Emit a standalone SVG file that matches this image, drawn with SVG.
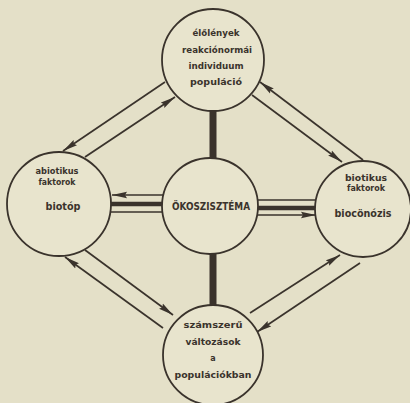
<svg xmlns="http://www.w3.org/2000/svg" width="410" height="403" viewBox="0 0 410 403">
<defs>
<marker id="ah" markerWidth="16" markerHeight="8" refX="15" refY="4" orient="auto" markerUnits="userSpaceOnUse">
<path d="M0,0.8 L15,4 L0,7.2 L2,4 Z" fill="#3a332c"/>
</marker>
<style>
.c{fill:#e8e4cd;stroke:#3a332c;stroke-width:1.8}
.t{font-family:"DejaVu Sans",sans-serif;font-weight:bold;fill:#3a332c;text-anchor:middle;font-size:8px}
.b{font-size:10px}
.a{stroke:#3a332c;stroke-width:1.7;fill:none}
.k{stroke:#3a332c;fill:none}
</style>
</defs>
<rect width="410" height="403" fill="#e4e0c8"/>
<g id="connectors">
<line class="k" x1="213" y1="108" x2="213" y2="160" stroke-width="7"/>
<line class="k" x1="213" y1="252" x2="213" y2="308" stroke-width="7"/>
<line class="a" x1="165" y1="195" x2="112" y2="195" marker-end="url(#ah)"/>
<line class="k" x1="110" y1="204" x2="164" y2="204" stroke-width="4.5"/>
<line class="a" x1="110" y1="212" x2="164" y2="212"/>
<line class="a" x1="256" y1="200" x2="316" y2="200"/>
<line class="k" x1="256" y1="208" x2="316" y2="208" stroke-width="4.5"/>
<line class="a" x1="256" y1="215" x2="316" y2="215" marker-end="url(#ah)"/>
<line class="a" x1="165" y1="82" x2="63" y2="151" marker-end="url(#ah)"/>
<line class="a" x1="85" y1="157" x2="175" y2="97" marker-end="url(#ah)"/>
<line class="a" x1="363" y1="160" x2="260" y2="82" marker-end="url(#ah)"/>
<line class="a" x1="252" y1="95" x2="342" y2="162" marker-end="url(#ah)"/>
<line class="a" x1="85" y1="250" x2="173" y2="315" marker-end="url(#ah)"/>
<line class="a" x1="163" y1="328" x2="65" y2="257" marker-end="url(#ah)"/>
<line class="a" x1="250" y1="313" x2="340" y2="255" marker-end="url(#ah)"/>
<line class="a" x1="360" y1="263" x2="257" y2="332" marker-end="url(#ah)"/>
</g>
<g id="top">
<circle class="c" cx="213" cy="60" r="51"/>
<text class="t" x="216" y="36" textLength="47" lengthAdjust="spacingAndGlyphs">élőlények</text>
<text class="t" x="217" y="53" textLength="70" lengthAdjust="spacingAndGlyphs">reakciónormái</text>
<text class="t" x="216" y="69" textLength="55" lengthAdjust="spacingAndGlyphs">individuum</text>
<text class="t" x="216" y="85" textLength="52" lengthAdjust="spacingAndGlyphs">populáció</text>
</g>
<g id="left">
<circle class="c" cx="59" cy="204" r="52"/>
<text class="t" x="57" y="174" textLength="43" lengthAdjust="spacingAndGlyphs">abiotikus</text>
<text class="t" x="57" y="185" textLength="37" lengthAdjust="spacingAndGlyphs">faktorok</text>
<text class="t b" x="63" y="210" textLength="35" lengthAdjust="spacingAndGlyphs">biotóp</text>
</g>
<g id="center">
<circle class="c" cx="210" cy="206" r="48"/>
<text class="t b" x="211" y="210" textLength="78" lengthAdjust="spacingAndGlyphs">ÖKOSZISZTÉMA</text>
</g>
<g id="right">
<circle class="c" cx="363" cy="209" r="48"/>
<text class="t" x="366" y="181" textLength="42" lengthAdjust="spacingAndGlyphs">biotikus</text>
<text class="t" x="366" y="191" textLength="38" lengthAdjust="spacingAndGlyphs">faktorok</text>
<text class="t b" x="363" y="217" textLength="57" lengthAdjust="spacingAndGlyphs">biocönózis</text>
</g>
<g id="bottom">
<circle class="c" cx="213" cy="355" r="50"/>
<text class="t" x="213" y="328" textLength="59" lengthAdjust="spacingAndGlyphs">számszerű</text>
<text class="t" x="213" y="345" textLength="55" lengthAdjust="spacingAndGlyphs">változások</text>
<text class="t" x="213" y="361">a</text>
<text class="t" x="213" y="378" textLength="77" lengthAdjust="spacingAndGlyphs">populációkban</text>
</g>
</svg>
